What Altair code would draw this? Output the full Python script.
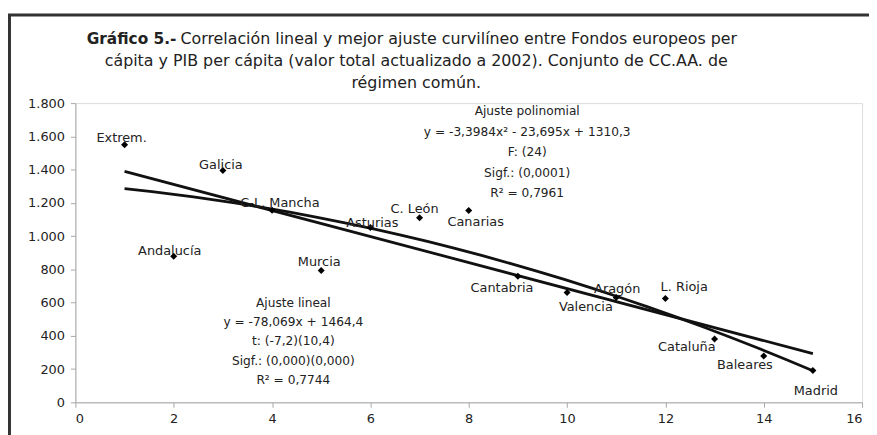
import altair as alt
import pandas as pd

# ---- data ----
regions = ["Extrem.", "Andalucía", "Galicia", "C-L. Mancha", "Murcia", "Asturias",
           "C. León", "Canarias", "Cantabria", "Valencia", "Aragón", "L. Rioja",
           "Cataluña", "Baleares", "Madrid"]
rank = [1, 2, 3, 4, 5, 6, 7, 8, 9, 10, 11, 12, 13, 14, 15]
fondos = [1550, 878, 1395, 1156, 793, 1051, 1110, 1154, 759, 660, 630, 625, 381, 278, 192]

x_ticks = [0, 2, 4, 6, 8, 10, 12, 14, 16]
y_ticks = [0, 200, 400, 600, 800, 1000, 1200, 1400, 1600, 1800]

title_bold = "Gráfico 5.-"
title_line1 = "Correlación lineal y mejor ajuste curvilíneo entre Fondos europeos per"
title_line2 = "cápita y PIB per cápita (valor total actualizado a 2002). Conjunto de CC.AA. de"
title_line3 = "régimen común."

poly_text = ["Ajuste polinomial", "y = -3,3984x² - 23,695x + 1310,3", "F: (24)",
             "Sigf.: (0,0001)", "R² = 0,7961"]
lin_text = ["Ajuste lineal", "y = -78,069x + 1464,4", "t: (-7,2)(10,4)",
            "Sigf.: (0,000)(0,000)", "R² = 0,7744"]

# label offsets (styling) in pixels relative to each point
label_offsets = {
    "Extrem.": (-3, -7), "Galicia": (-2, -5), "C-L. Mancha": (8, -7),
    "Andalucía": (-4, -5), "Murcia": (-2, -9), "Asturias": (2, -5),
    "C. León": (-5, -9), "Canarias": (7, 12), "Cantabria": (-16, 12),
    "Valencia": (19, 15), "Aragón": (1, -9), "L. Rioja": (19, -11),
    "Cataluña": (-28, 8), "Baleares": (-19, 9), "Madrid": (3, 21),
}

df = pd.DataFrame({"region": regions, "x": rank, "y": fondos})

FONT = "DejaVu Sans"
W, H = 794, 302

xs = alt.Scale(domain=[0, 16], nice=False)
ys = alt.Scale(domain=[0, 1800], nice=False, zero=True)

x_axis = alt.Axis(values=x_ticks, title=None, grid=False,
                  domainColor="#a8a8a8", tickColor="#a8a8a8",
                  tickSize=5, labelPadding=5, labelColor="#222",
                  labelFont=FONT, labelFontSize=13, labelOverlap=False)
y_axis = alt.Axis(values=y_ticks, title=None, grid=False,
                  domainColor="#a8a8a8", tickColor="#a8a8a8",
                  tickSize=5, labelPadding=6, labelColor="#222",
                  labelFont=FONT, labelFontSize=13, labelOverlap=False,
                  labelExpr="replace(format(datum.value, ','), ',', '.')")

def X():
    return alt.X("x:Q", scale=xs, axis=x_axis)

def Y():
    return alt.Y("y:Q", scale=ys, axis=y_axis)

base = alt.Chart(df)

lin = base.transform_regression("x", "y", method="linear").mark_line(
    color="#111", strokeWidth=2.8).encode(x=X(), y=Y())
poly = base.transform_regression("x", "y", method="poly", order=2).mark_line(
    color="#111", strokeWidth=2.8).encode(x=X(), y=Y())
pts = base.mark_point(shape="diamond", filled=True, color="#000", size=50, opacity=1).encode(
    x=X(), y=Y())

label_layers = []
for name, (dx, dy) in label_offsets.items():
    label_layers.append(
        base.transform_filter(alt.datum.region == name).mark_text(
            font=FONT, fontSize=13, color="#222", dx=dx, dy=dy, baseline="middle", align="center"
        ).encode(x=X(), y=Y(), text="region:N"))

one = pd.DataFrame({"k": [0]})

def txt(text, x, y, size=12.3, weight="normal", align="center", line_height=None):
    kw = dict(text=text, font=FONT, fontSize=size, fontWeight=weight, color="#222",
              align=align, baseline="middle")
    if line_height:
        kw["lineHeight"] = line_height
    return alt.Chart(one).mark_text(**kw).encode(x=alt.value(x), y=alt.value(y))

annos = [
    txt(poly_text, 456, 8, line_height=20.8),
    txt(lin_text, 220, 202, line_height=19.3),
    txt(title_bold, 102, -65, size=15.5, weight="bold", align="right"),
    txt(title_line1, 106, -65, size=16, align="left"),
    txt(title_line2, 344, -42, size=16),
    txt(title_line3, 344, -20, size=16),
]

border = [
    alt.Chart(one).mark_rule(color="#333", strokeWidth=3).encode(
        x=alt.value(-66.5), y=alt.value(-89), y2=alt.value(340)),
    alt.Chart(one).mark_rule(color="#333", strokeWidth=3).encode(
        x=alt.value(-68), x2=alt.value(820), y=alt.value(-89)),
]

chart = alt.layer(lin, poly, pts, *label_layers, *annos, *border).properties(
    width=W, height=H,
    autosize=alt.AutoSizeParams(type="none"),
    padding={"left": 68, "top": 94, "right": 7, "bottom": 31},
).configure_view(stroke=None).configure(background="white")

chart.save("out.html", embed_options={"renderer": "svg", "actions": False})
